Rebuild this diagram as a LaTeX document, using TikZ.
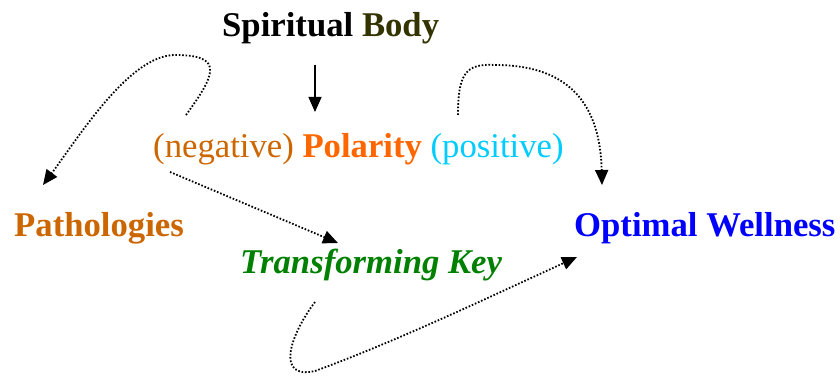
\documentclass[tikz,border=0pt]{standalone}
\usepackage{fontspec}
\setmainfont{Liberation Serif}
\usetikzlibrary{arrows.meta}
\definecolor{bodycol}{HTML}{333300}
\definecolor{negcol}{HTML}{CC6600}
\definecolor{polcol}{HTML}{FF6600}
\definecolor{poscol}{HTML}{00CCFF}
\definecolor{wellcol}{HTML}{0000FF}
\definecolor{keycol}{HTML}{008000}
\tikzset{
  lbl/.style={inner sep=0pt, anchor=base west, font=\fontsize{34.7}{40}\selectfont},
  solidarrow/.style={line width=1.3pt, -{Triangle[length=15pt,width=13pt]}},
  dotarrow/.style={line width=1.8pt, dash pattern=on 1.6pt off 1.8pt, -{Triangle[length=15pt,width=13pt]}}
}
\begin{document}
\begin{tikzpicture}[x=1pt,y=1pt]
\useasboundingbox (0,0) rectangle (840,375);
\node[lbl] (sb) at (222,338) {\textbf{Spiritual \textcolor{bodycol}{Body}}};
\node[lbl] (pol) at (153,217) {\textcolor{negcol}{(negative)} \textcolor{polcol}{\textbf{Polarity}} \textcolor{poscol}{(positive)}};
\node[lbl] (path) at (14,139) {\textcolor{negcol}{\textbf{Pathologies}}};
\node[lbl] (well) at (574,139) {\textcolor{wellcol}{\textbf{Optimal Wellness}}};
\node[lbl] (key) at (240,102) {\textcolor{keycol}{\textbf{\textit{Transforming Key}}}};
% connector end points
\coordinate (sbOut) at (315,310);
\coordinate (polIn) at (315,263);
\coordinate (negOut) at (186,260);
\coordinate (pathIn) at (43,190);
\coordinate (negLow) at (170,203);
\coordinate (keyIn) at (338,132);
\coordinate (posOut) at (458,260);
\coordinate (wellIn) at (602,190);
\coordinate (keyOut) at (315,73);
\coordinate (wellIn2) at (577,118);
% connectors
\draw[solidarrow] (sbOut) -- (polIn);
\draw[dotarrow] (negOut) .. controls (215,300) and (225,320) .. (175,320)
   .. controls (130,320) and (80,240) .. (pathIn);
\draw[dotarrow] (negLow) -- (keyIn);
\draw[dotarrow] (posOut) .. controls (458,300) and (465,312) .. (495,310)
   .. controls (560,310) and (600,280) .. (wellIn);
\draw[dotarrow] (keyOut) .. controls (290,40) and (275,-5) .. (315,4)
   .. controls (400,35) and (500,83) .. (wellIn2);
\end{tikzpicture}
\end{document}
